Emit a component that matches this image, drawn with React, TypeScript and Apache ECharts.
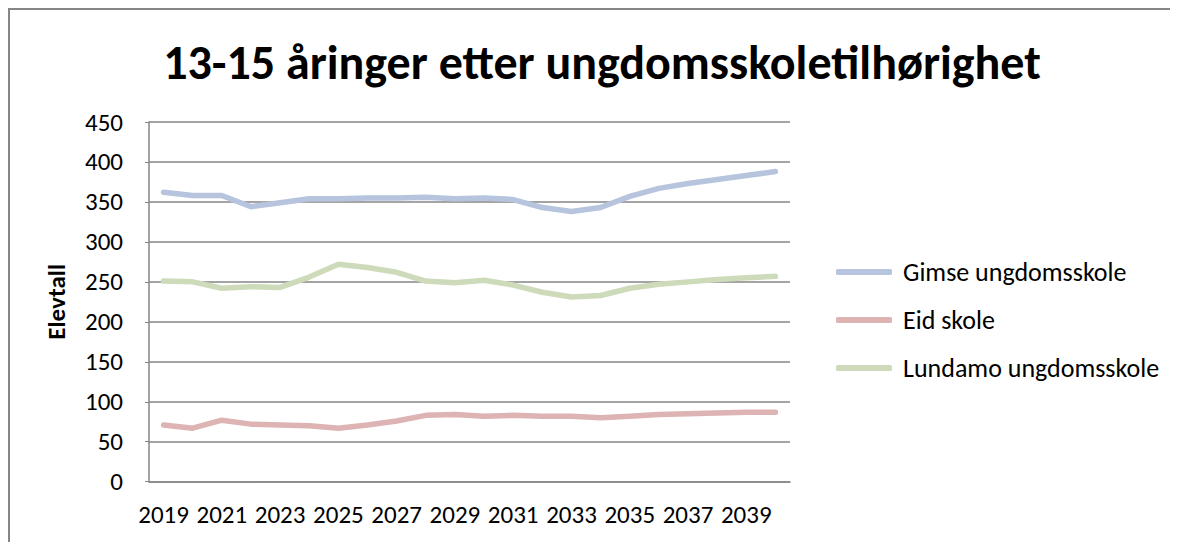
import React, { useEffect, useRef } from "react";
import * as echarts from "echarts";

const years = ["2019","2020","2021","2022","2023","2024","2025","2026","2027","2028","2029","2030","2031","2032","2033","2034","2035","2036","2037","2038","2039","2040"];
const gimse = [362,358,358,344,349,354,354,355,355,356,354,355,353,343,338,343,357,367,373,378,383,388];
const eid = [71,67,77,72,71,70,67,71,76,83,84,82,83,82,82,80,82,84,85,86,87,87];
const lundamo = [251,250,242,244,243,256,272,268,262,251,249,252,246,237,231,233,242,247,250,253,255,257];
const yTicks = { min: 0, max: 450, interval: 50 };

const FONT = "Carlito, Lato, sans-serif";

export default function App() {
  const ref = useRef<HTMLDivElement>(null);
  useEffect(() => {
    const chart = echarts.init(ref.current!, null, { renderer: "svg" });
    const mk = (name: string, data: number[], color: string) => ({
      name,
      type: "line",
      data,
      symbol: "none",
      lineStyle: { width: 5.5, color, cap: "round", join: "round" },
      itemStyle: { color },
    });
    chart.setOption({
      animation: false,
      textStyle: { fontFamily: FONT },
      title: {
        text: "13-15 åringer etter ungdomsskoletilhørighet",
        left: 589,
        top: 25,
        textAlign: "center",
        textStyle: { fontFamily: FONT, fontSize: 48, fontWeight: "bold", color: "#000" },
      },
      graphic: [
        { type: "line", shape: { x1: 0, y1: 1, x2: 1170, y2: 1 }, style: { stroke: "#868686", lineWidth: 2 } },
        { type: "line", shape: { x1: 1, y1: 0, x2: 1, y2: 534 }, style: { stroke: "#868686", lineWidth: 2 } },
      ],
      legend: {
        orient: "vertical",
        left: 823,
        top: 246,
        itemWidth: 56,
        itemHeight: 6,
        itemGap: 22,
        icon: "roundRect",
        textStyle: { fontFamily: FONT, fontSize: 26, color: "#000", padding: [0, 0, 0, 6] },
        data: ["Gimse ungdomsskole", "Eid skole", "Lundamo ungdomsskole"],
      },
      grid: { left: 141, top: 114, width: 641, height: 359.7, containLabel: false },
      xAxis: {
        type: "category",
        data: years,
        boundaryGap: true,
        axisLine: { show: true, lineStyle: { color: "#868686", width: 1.5 } },
        axisTick: { show: false },
        axisLabel: { interval: 1, fontFamily: FONT, fontSize: 25, color: "#000", margin: 20 },
      },
      yAxis: {
        type: "value",
        min: yTicks.min,
        max: yTicks.max,
        interval: yTicks.interval,
        name: "Elevtall",
        nameLocation: "middle",
        nameGap: 80,
        nameRotate: 90,
        nameTextStyle: { fontFamily: FONT, fontSize: 25, fontWeight: "bold", color: "#000" },
        axisLine: { show: true, lineStyle: { color: "#868686", width: 1.5 } },
        axisTick: { show: true, length: 4, lineStyle: { color: "#868686" } },
        axisLabel: { fontFamily: FONT, fontSize: 25, color: "#000", margin: 26 },
        splitLine: { lineStyle: { color: "#868686", width: 1.5 } },
      },
      series: [
        mk("Gimse ungdomsskole", gimse, "#B7C4DE"),
        mk("Eid skole", eid, "#DDB3B3"),
        mk("Lundamo ungdomsskole", lundamo, "#CDDBBA"),
      ],
    });
    return () => chart.dispose();
  }, []);
  return <div ref={ref} style={{ width: 1170, height: 534 }} />;
}
